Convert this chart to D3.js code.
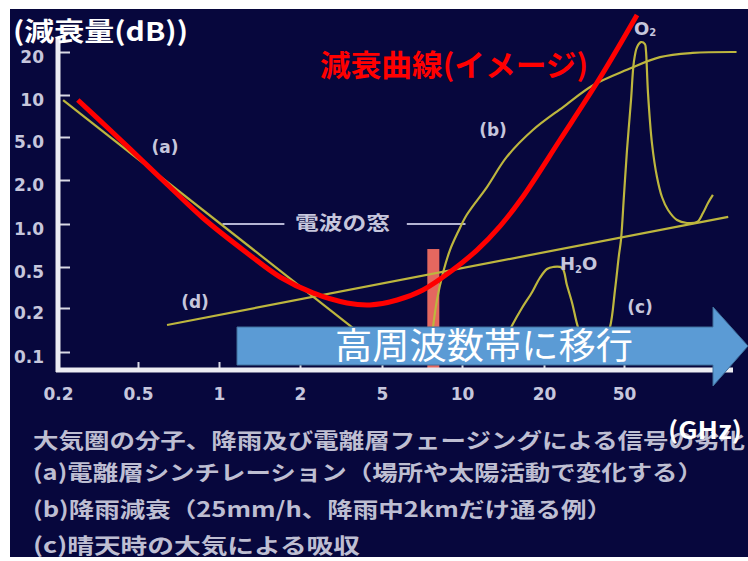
<!DOCTYPE html>
<html>
<head>
<meta charset="utf-8">
<script src="https://cdn.jsdelivr.net/npm/d3@7"></script>
<style>
html, body { margin: 0; padding: 0; background: #fff; }
svg { display: block; }
</style>
</head>
<body>
<svg width="748" height="561"></svg>
<script>
// Axis ticks
var xTicks = [0.2, 0.5, 1, 2, 5, 10, 20, 50];
var xTickLabels = ["0.2", "0.5", "1", "2", "5", "10", "20", "50"];
var yTicks = [0.1, 0.2, 0.5, 1, 2, 5, 10, 20];
var yTickLabels = ["0.1", "0.2", "0.5", "1.0", "2.0", "5.0", "10", "20"];

// Curves, [GHz, dB]
var curveA = [[0.212, 9.2], [4.28, 0.121]];
var curveD = [[0.641, 0.153], [122, 1.12]];
var curveB = [[7.75, 0.14], [8.05, 0.239], [8.48, 0.437], [9.01, 0.657], [9.66, 0.879],
	[10.4, 1.152], [12.35, 1.79], [14.6, 3.27], [18.2, 5.61], [24.9, 8.2], [35.1, 11.7],
	[51.3, 15.0], [68, 18.4], [90, 19.7], [131, 20]];
var curveC = [[14.4, 0.121], [15.3, 0.153], [16.6, 0.2], [18.1, 0.286], [19.3, 0.391],
	[20.7, 0.478], [22.2, 0.5], [24.6, 0.49], [26.0, 0.334], [27.6, 0.224], [29.5, 0.148],
	[32.0, 0.112], [39.3, 0.112], [42.6, 0.148], [45.1, 0.299], [47.2, 0.607], [48.3, 0.773],
	[50, 1.58], [51.3, 3.79], [53.1, 9.21], [54.4, 17.0], [55.9, 22.2], [57.8, 24.7],
	[59.8, 23.7], [60.3, 20.9], [61.4, 10.3], [63.5, 4.4], [66.3, 2.13], [69.2, 1.53],
	[72.9, 1.247], [78.7, 1.065], [85.7, 1.016], [93.4, 1.032], [98.3, 1.189],
	[102.6, 1.392], [107, 1.58]];
var redCurve = [[0.251, 9.21], [0.363, 5.61], [0.509, 3.16], [0.657, 1.79], [0.872, 1.099],
	[1.271, 0.627], [1.685, 0.40], [2.31, 0.28], [3.38, 0.224], [4.37, 0.214], [5.7, 0.239],
	[7.13, 0.299], [9.01, 0.447], [11.35, 0.657], [13.8, 0.968], [16.6, 1.506], [24.0, 4.69],
	[38, 13.2], [55.9, 44]];
var rainBand = [7.8, 0.668];
var windowLines = [[1.03, 1.75], [6.2, 10.3]];
var windowLevel = 1.0;

var svg = d3.select("svg");
var cjk = "'Noto Sans CJK JP', sans-serif";
var latin = "'DejaVu Sans', sans-serif";
var labelColor = "#c6c6dc";
var curveColor = "#bdb63e";

var plotBottom = 370;
var axisX = 58;

// log scales with evenly spaced steps as in the original figure
var x = d3.scaleLog()
	.domain([0.2, 0.5, 1, 2, 5, 10, 20, 50, 100, 200])
	.range([58, 138, 219, 300, 382, 462, 544, 624, 705, 786]);
var y = d3.scaleLog()
	.domain([0.05, 0.1, 0.2, 0.5, 1, 2, 5, 10, 20, 50])
	.range([396, 352, 308, 267, 224, 180, 137, 95, 52, 9]);

// background
svg.append("rect")
	.attr("x", 10).attr("y", 9)
	.attr("width", 738).attr("height", 548)
	.attr("fill", "#07073d");

// rain attenuation band marker
svg.append("rect")
	.attr("x", x(rainBand[0]) - 6)
	.attr("y", y(rainBand[1]))
	.attr("width", 12)
	.attr("height", plotBottom - y(rainBand[1]))
	.attr("fill", "#e4675f");

// axes
var xAxis = d3.axisBottom(x)
	.tickValues(xTicks)
	.tickFormat((d) => xTickLabels[xTicks.indexOf(d)])
	.tickSizeInner(-8)
	.tickSizeOuter(0)
	.tickPadding(18);
var yAxis = d3.axisLeft(y)
	.tickValues(yTicks)
	.tickFormat((d) => yTickLabels[yTicks.indexOf(d)])
	.tickSizeInner(-10)
	.tickSizeOuter(0)
	.tickPadding(16);

var gx = svg.append("g").attr("transform", `translate(0, ${plotBottom})`).call(xAxis);
var gy = svg.append("g").attr("transform", `translate(${axisX + 2}, 0)`).call(yAxis);
[gx, gy].forEach((g) => {
	g.select(".domain").remove();
	g.selectAll(".tick line").attr("stroke", "#d8d8e4").attr("stroke-width", 2);
	g.selectAll(".tick text")
		.attr("fill", labelColor)
		.attr("font-family", latin)
		.attr("font-weight", "bold")
		.attr("font-size", 17);
});
gy.selectAll(".tick text").attr("y", 5);

svg.append("line")
	.attr("x1", axisX).attr("x2", axisX)
	.attr("y1", 37).attr("y2", plotBottom + 2)
	.attr("stroke", "#ececf2").attr("stroke-width", 5);
svg.append("line")
	.attr("x1", axisX - 2).attr("x2", 733)
	.attr("y1", plotBottom).attr("y2", plotBottom)
	.attr("stroke", "#ececf2").attr("stroke-width", 5);

// "電波の窓" bracket lines
svg.selectAll("line.window")
	.data(windowLines)
	.join("line")
	.attr("class", "window")
	.attr("x1", (d) => x(d[0]))
	.attr("x2", (d) => x(d[1]))
	.attr("y1", y(windowLevel))
	.attr("y2", y(windowLevel))
	.attr("stroke", "#b4b4d4")
	.attr("stroke-width", 2);

// curves
var line = d3.line()
	.x((d) => x(d[0]))
	.y((d) => y(d[1]));

[curveA, curveD].forEach((c) => {
	svg.append("path")
		.attr("d", line.curve(d3.curveLinear)(c))
		.attr("fill", "none")
		.attr("stroke", curveColor)
		.attr("stroke-width", 2.2);
});
[curveB, curveC].forEach((c) => {
	svg.append("path")
		.attr("d", line.curve(d3.curveCatmullRom.alpha(0.5))(c))
		.attr("fill", "none")
		.attr("stroke", curveColor)
		.attr("stroke-width", 2.2);
});

svg.append("path")
	.attr("d", line.curve(d3.curveCatmullRom.alpha(0.5))(redCurve))
	.attr("fill", "none")
	.attr("stroke", "#ff0000")
	.attr("stroke-width", 5);

// labels inside the plot
var plotLabels = [
	{ t: "(a)", x: 165, y: 147 },
	{ t: "(b)", x: 493, y: 130 },
	{ t: "(c)", x: 640, y: 307 },
	{ t: "(d)", x: 195, y: 302 },
];
svg.selectAll("text.curveLabel")
	.data(plotLabels)
	.join("text")
	.attr("class", "curveLabel")
	.attr("x", (d) => d.x)
	.attr("y", (d) => d.y)
	.attr("dy", "0.36em")
	.attr("text-anchor", "middle")
	.attr("font-family", latin)
	.attr("font-weight", "bold")
	.attr("font-size", 17)
	.attr("fill", labelColor)
	.text((d) => d.t);

svg.append("text")
	.attr("x", 295).attr("y", 230)
	.attr("font-family", cjk).attr("font-weight", "bold").attr("font-size", 19)
	.attr("textLength", 95).attr("lengthAdjust", "spacingAndGlyphs")
	.attr("fill", labelColor)
	.text("電波の窓");

var h2o = svg.append("text")
	.attr("x", 560).attr("y", 270)
	.attr("font-family", latin).attr("font-weight", "bold").attr("font-size", 18)
	.attr("fill", labelColor);
h2o.append("tspan").text("H");
h2o.append("tspan").attr("font-size", 10).attr("dy", 3).text("2");
h2o.append("tspan").attr("dy", -3).text("O");

var o2 = svg.append("text")
	.attr("x", 634).attr("y", 35)
	.attr("font-family", latin).attr("font-weight", "bold").attr("font-size", 18)
	.attr("fill", labelColor);
o2.append("tspan").text("O");
o2.append("tspan").attr("font-size", 10).attr("dy", 1).text("2");

// arrow
var arrow = d3.path();
arrow.moveTo(237, 327);
arrow.lineTo(713, 327);
arrow.lineTo(713, 307);
arrow.lineTo(748, 346);
arrow.lineTo(713, 386);
arrow.lineTo(713, 365);
arrow.lineTo(237, 365);
arrow.closePath();
svg.append("path")
	.attr("d", arrow.toString())
	.attr("fill", "#5b9bd5")
	.attr("stroke", "#41719c")
	.attr("stroke-width", 1);
svg.append("text")
	.attr("x", 335).attr("y", 359)
	.attr("font-family", cjk).attr("font-size", 36)
	.attr("textLength", 298).attr("lengthAdjust", "spacingAndGlyphs")
	.attr("fill", "#ffffff")
	.text("高周波数帯に移行");

// titles
svg.append("text")
	.attr("x", 13).attr("y", 41)
	.attr("font-family", cjk).attr("font-weight", "bold").attr("font-size", 26)
	.attr("textLength", 175).attr("lengthAdjust", "spacingAndGlyphs")
	.attr("fill", "#ffffff")
	.text("(減衰量(dB))");

svg.append("text")
	.attr("x", 320).attr("y", 76)
	.attr("font-family", cjk).attr("font-weight", "bold").attr("font-size", 30)
	.attr("textLength", 268).attr("lengthAdjust", "spacingAndGlyphs")
	.attr("fill", "#ff0000")
	.text("減衰曲線(イメージ)");

// notes
var notes = [
	{ t: "大気圏の分子、降雨及び電離層フェージングによる信号の劣化", y: 448, w: 712 },
	{ t: "(a)電離層シンチレーション（場所や太陽活動で変化する）", y: 480, w: 670 },
	{ t: "(b)降雨減衰（25mm/h、降雨中2kmだけ通る例）", y: 517, w: 579 },
	{ t: "(c)晴天時の大気による吸収", y: 553, w: 327 },
];
svg.selectAll("text.note")
	.data(notes)
	.join("text")
	.attr("class", "note")
	.attr("x", 33)
	.attr("y", (d) => d.y)
	.attr("font-family", cjk)
	.attr("font-weight", "bold")
	.attr("font-size", 21)
	.attr("textLength", (d) => d.w)
	.attr("lengthAdjust", "spacingAndGlyphs")
	.attr("fill", "#bebed2")
	.text((d) => d.t);

svg.append("text")
	.attr("x", 668).attr("y", 439)
	.attr("font-family", cjk).attr("font-weight", "bold").attr("font-size", 24)
	.attr("textLength", 74).attr("lengthAdjust", "spacingAndGlyphs")
	.attr("fill", "#ffffff")
	.text("(GHz)");
</script>
</body>
</html>
